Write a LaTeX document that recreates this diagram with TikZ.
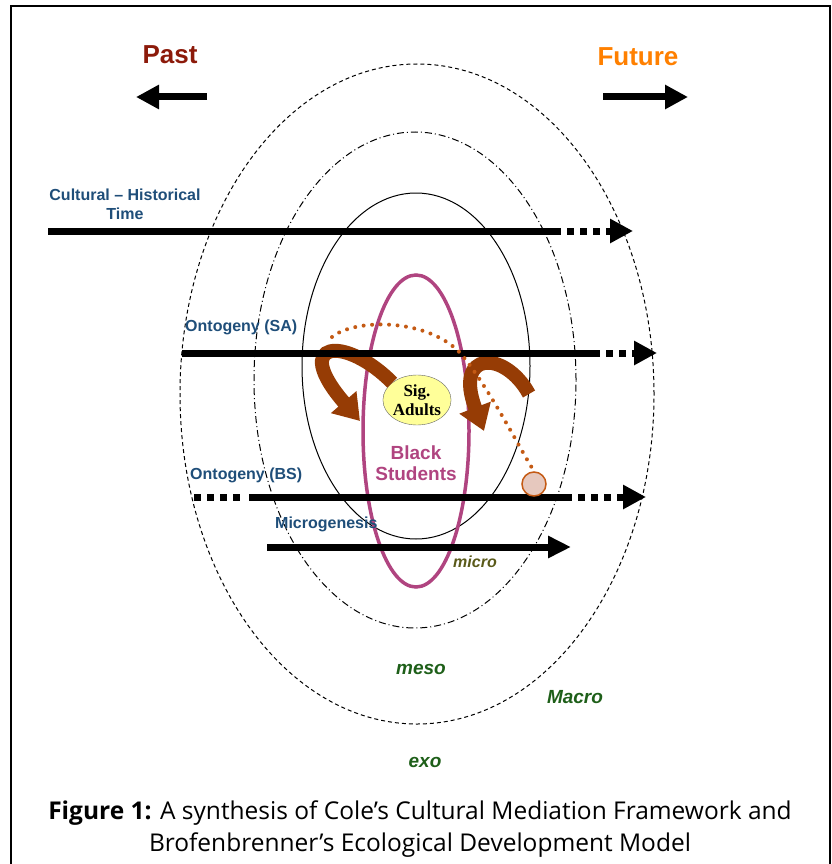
\documentclass[tikz,border=0pt]{standalone}
\usepackage{fontspec}
\setmainfont{Liberation Sans}
\newfontfamily\sigfont{Liberation Serif}
\newfontfamily\capfont{Open Sans}
\usepackage{tikz}
\usetikzlibrary{shapes.geometric, arrows.meta, positioning, calc}

\definecolor{pastred}{RGB}{140,26,10}
\definecolor{futureorange}{RGB}{255,128,0}
\definecolor{labelblue}{RGB}{31,78,121}
\definecolor{systemgreen}{RGB}{30,95,25}
\definecolor{microolive}{RGB}{90,90,25}
\definecolor{studentpink}{RGB}{176,68,128}
\definecolor{mediationbrown}{RGB}{150,60,5}
\definecolor{pathorange}{RGB}{196,90,20}
\definecolor{sigyellow}{RGB}{255,255,153}

\tikzstyle{timeline} = [draw, line width=7pt]
\tikzstyle{ahead} = [timeline, dash pattern=on 6.5pt off 6.5pt, -{Triangle[length=23pt,width=23pt]}]
\tikzstyle{timelabel} = [text=labelblue, font=\fontsize{16}{19}\selectfont\bfseries, inner sep=0pt]
\tikzstyle{system} = [text=systemgreen, font=\fontsize{19}{22}\selectfont\bfseries\itshape, inner sep=0pt]
\tikzstyle{mediation} = [draw=mediationbrown, line width=14pt, -{Triangle[length=25pt,width=32pt]}]

\begin{document}
\begin{tikzpicture}[x=1pt, y=-1pt]
        \useasboundingbox (0,0) rectangle (831,864);
        \draw [line width=2pt] (11,864) -- (11,6) -- (830,6) -- (830,864);

        % past and future
        \node [text=pastred, font=\fontsize{26}{30}\selectfont\bfseries] (past) at (170,55) {Past};
        \node [text=futureorange, font=\fontsize{26}{30}\selectfont\bfseries] (future) at (638,57) {Future};
        \coordinate (past-a) at (207,97);
        \coordinate (past-b) at (136,97);
        \coordinate (future-a) at (603,97);
        \coordinate (future-b) at (688,97);
        \draw [timeline, -{Triangle[length=23pt,width=23pt]}] (past-a) -- (past-b);
        \draw [timeline, -{Triangle[length=23pt,width=23pt]}] (future-a) -- (future-b);

        % ecological systems
        \draw [line width=1pt, dash pattern=on 4pt off 3pt] (417,394) ellipse [x radius=237pt, y radius=330pt];
        \draw [line width=1pt, dash pattern=on 7pt off 3pt on 1pt off 3pt] (415,380) ellipse [x radius=161pt, y radius=248pt];
        \draw [line width=1pt] (416,366) ellipse [x radius=114pt, y radius=173pt];
        \draw [line width=3.5pt, studentpink] (416,431) ellipse [x radius=53pt, y radius=156pt];

        \node [text=studentpink, font=\fontsize{19}{21}\selectfont\bfseries, align=center, inner sep=0pt] (students) at (416,463) {Black\\Students};
        \node [ellipse, draw=black!60, fill=sigyellow, minimum width=61pt, minimum height=50pt, inner sep=0pt, align=center, font=\sigfont\fontsize{17}{19}\selectfont\bfseries] (sig) at (417,400) {Sig.\\Adults};

        % mediation arrows
        \draw [mediation] (sig.145) .. controls (345,335) and (290,340) .. (360,421);
        \draw [mediation] (529,394) .. controls (505,350) and (453,350) .. (484,431);

        % time scales
        \coordinate (cht-a) at (48,231);
        \coordinate (cht-b) at (554,231);
        \coordinate (cht-c) at (633,231);
        \draw [timeline] (cht-a) -- (cht-b);
        \draw [ahead] (cht-b) -- (cht-c);
        \node [timelabel, align=center] (cht) at (125,204) {Cultural -- Historical\\Time};

        \coordinate (sa-a) at (182,353);
        \coordinate (sa-b) at (593,353);
        \coordinate (sa-c) at (657,353);
        \draw [timeline] (sa-a) -- (sa-b);
        \draw [ahead] (sa-b) -- (sa-c);
        \node [timelabel, anchor=west] (sa) at (185,327) {Ontogeny (SA)};

        \coordinate (bs-a) at (194,497);
        \coordinate (bs-b) at (243,497);
        \coordinate (bs-c) at (249,497);
        \coordinate (bs-d) at (565,497);
        \coordinate (bs-e) at (646,497);
        \draw [timeline, dash pattern=on 6.5pt off 6.5pt] (bs-a) -- (bs-b);
        \draw [timeline] (bs-c) -- (bs-d);
        \draw [ahead] (bs-d) -- (bs-e);
        \node [timelabel, anchor=west] (bs) at (190,475) {Ontogeny (BS)};

        \coordinate (mg-a) at (267,547);
        \coordinate (mg-b) at (571,547);
        \draw [timeline, -{Triangle[length=23pt,width=21pt]}] (mg-a) -- (mg-b);
        \node [timelabel, anchor=west] (mg) at (275,524) {Microgenesis};

        % trajectory of the student
        \node [circle, draw=pathorange, line width=1.5pt, fill={rgb,255:red,230;green,200;blue,190}, minimum size=24pt, inner sep=0pt] (goal) at (534,484) {};
        \coordinate (traj) at (332,337);
        \draw [pathorange, line width=4pt, line cap=round, dash pattern=on 0pt off 8.5pt] (traj) .. controls (355,318) and (430,318) .. (462,355) .. controls (490,390) and (515,440) .. (goal.north);

        % system names
        \node [system, text=microolive, font=\fontsize{16}{19}\selectfont\bfseries\itshape] (micro) at (475,562) {micro};
        \node [system] (meso) at (421,669) {meso};
        \node [system] (macro) at (575,697) {Macro};
        \node [system] (exo) at (425,762) {exo};

        % caption
        \node [font=\capfont\fontsize{24.5}{32}\selectfont, align=center, inner sep=0pt] (caption) at (420,829) {\textbf{Figure 1:} A synthesis of Cole’s Cultural Mediation Framework and\\Brofenbrenner’s Ecological Development Model};
    \end{tikzpicture}
\end{document}
